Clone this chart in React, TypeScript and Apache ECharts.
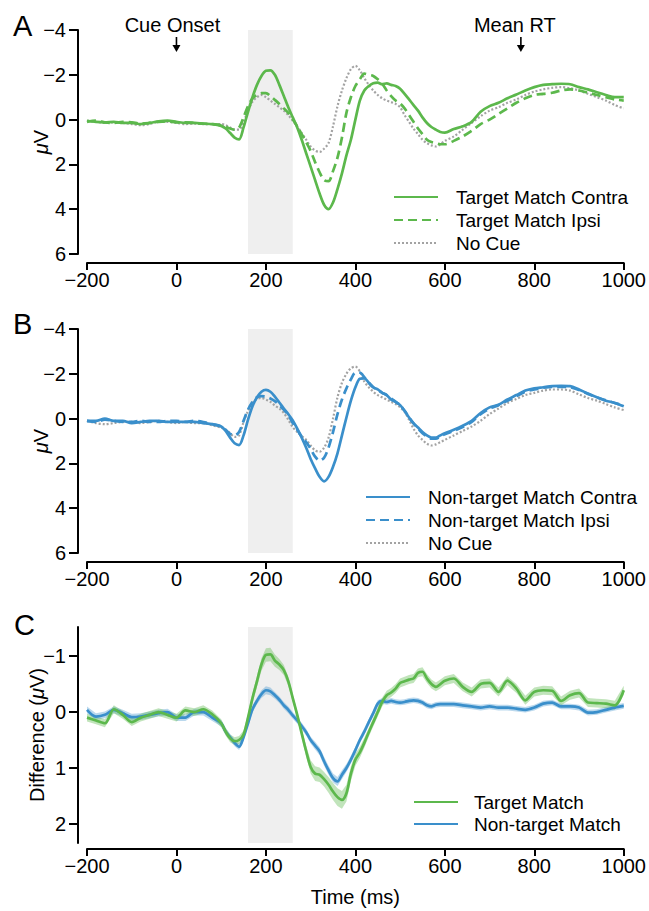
import React, { useEffect, useRef } from "react";
import * as echarts from "echarts";

// Time points (ms)
const times = [
  -200, -180, -160, -140, -120, -100, -80, -60, -40, -20, 0, 20, 40, 60, 80, 100,
  110, 120, 130, 140, 150, 160, 170, 180, 190, 200, 210, 220, 230, 240, 250, 260, 270, 280, 290, 300, 310, 320, 330, 340, 350,
  360, 370, 380, 390, 400, 410, 420, 430, 440, 450, 460, 470, 480, 490, 500, 510, 520, 530, 540, 550, 560, 570, 580, 590, 600,
  620, 640, 660, 680, 700, 720, 740, 760, 780, 800, 820, 840, 860, 880, 900, 920, 940, 960, 980, 1000,
];

// Panel A (µV)
const aContra = [
  0.05, 0.1, 0.12, 0.1, 0.15, 0.15, 0.2, 0.15, 0.08, 0.05, 0.1, 0.15, 0.15, 0.18, 0.2, 0.28,
  0.4, 0.6, 0.8, 0.88, 0.35, -0.35, -1.0, -1.55, -1.95, -2.18, -2.2, -2.0, -1.55, -1.05, -0.55, -0.1, 0.35, 0.9, 1.5, 2.1, 2.7, 3.3, 3.8, 4.0, 3.7,
  3.1, 2.4, 1.6, 0.9, 0.0, -0.85, -1.3, -1.5, -1.62, -1.65, -1.58, -1.62, -1.55, -1.5, -1.38, -1.15, -0.9, -0.65, -0.4, -0.1, 0.15, 0.33, 0.45, 0.55, 0.58,
  0.42, 0.3, 0.1, -0.35, -0.6, -0.75, -0.95, -1.12, -1.3, -1.45, -1.55, -1.58, -1.6, -1.58, -1.45, -1.35, -1.22, -1.1, -1.0, -1.0,
];
const aIpsi = [
  0.1, 0.05, 0.12, 0.15, 0.1, 0.12, 0.18, 0.15, 0.1, 0.08, 0.12, 0.12, 0.15, 0.18, 0.2, 0.25,
  0.32, 0.4, 0.45, 0.35, -0.1, -0.6, -0.95, -1.1, -1.18, -1.18, -1.05, -0.88, -0.7, -0.5, -0.3, -0.02, 0.3, 0.65, 1.0, 1.4, 1.9, 2.35, 2.7, 2.75, 2.3,
  1.7, 0.8, -0.3, -1.0, -1.5, -1.8, -2.05, -2.0, -1.95, -1.8, -1.6, -1.3, -1.05, -0.85, -0.72, -0.5, -0.2, 0.1, 0.4, 0.65, 0.9, 1.0, 1.05, 1.1, 1.1,
  0.95, 0.75, 0.5, 0.2, 0.0, -0.25, -0.5, -0.75, -0.95, -1.1, -1.15, -1.2, -1.3, -1.35, -1.3, -1.2, -1.1, -1.0, -0.9, -0.85,
];
const aNoCue = [
  0.05, 0.1, 0.15, 0.12, 0.15, 0.2, 0.25, 0.2, 0.1, 0.1, 0.15, 0.2, 0.18, 0.2, 0.2, 0.2,
  0.25, 0.35, 0.45, 0.45, 0.1, -0.4, -0.8, -1.0, -1.1, -1.0, -0.85, -0.7, -0.55, -0.4, -0.2, 0.05, 0.3, 0.6, 0.9, 1.2, 1.38, 1.44, 1.3, 1.05, 0.3,
  -0.6, -1.3, -1.85, -2.25, -2.4, -2.2, -1.85, -1.55, -1.3, -1.1, -0.95, -0.85, -0.78, -0.7, -0.55, -0.2, 0.1, 0.4, 0.65, 0.9, 1.05, 1.15, 1.2, 1.1, 0.95,
  0.75, 0.45, 0.15, -0.15, -0.4, -0.55, -0.75, -0.9, -1.1, -1.25, -1.35, -1.42, -1.45, -1.4, -1.3, -1.15, -1.0, -0.85, -0.65, -0.5,
];

// Panel B (µV)
const bContra = [
  0.1, 0.1, 0.0, 0.1, 0.1, 0.2, 0.15, 0.1, 0.1, 0.15, 0.15, 0.15, 0.15, 0.2, 0.25, 0.35,
  0.55, 0.85, 1.1, 1.18, 0.75, 0.05, -0.55, -0.95, -1.2, -1.28, -1.2, -0.98, -0.72, -0.45, -0.2, 0.08, 0.45, 0.85, 1.3, 1.8, 2.22, 2.6, 2.8, 2.6, 2.15,
  1.55, 0.75, -0.05, -0.8, -1.4, -1.78, -1.8, -1.6, -1.4, -1.3, -1.15, -1.05, -0.85, -0.75, -0.6, -0.35, -0.05, 0.2, 0.4, 0.6, 0.75, 0.85, 0.85, 0.75, 0.65,
  0.5, 0.32, 0.1, -0.25, -0.5, -0.62, -0.85, -1.05, -1.25, -1.35, -1.4, -1.45, -1.46, -1.45, -1.3, -1.12, -0.95, -0.8, -0.7, -0.55,
];
const bIpsi = [
  0.1, 0.15, 0.05, 0.1, 0.15, 0.15, 0.1, 0.15, 0.15, 0.1, 0.1, 0.15, 0.1, 0.15, 0.25, 0.35,
  0.5, 0.68, 0.75, 0.6, 0.1, -0.4, -0.75, -0.95, -1.0, -0.98, -0.9, -0.78, -0.6, -0.4, -0.15, 0.2, 0.5, 0.8, 1.05, 1.35, 1.7, 1.88, 1.75, 1.3, 0.6,
  -0.2, -0.85, -1.35, -1.75, -2.05, -2.05, -1.85, -1.6, -1.4, -1.28, -1.15, -1.05, -0.9, -0.75, -0.6, -0.35, -0.05, 0.22, 0.45, 0.65, 0.8, 0.9, 0.9, 0.8, 0.7,
  0.55, 0.38, 0.15, -0.2, -0.45, -0.6, -0.8, -1.0, -1.2, -1.3, -1.38, -1.42, -1.42, -1.4, -1.28, -1.1, -0.95, -0.82, -0.7, -0.58,
];
const bNoCue = [
  0.1, 0.2, 0.25, 0.2, 0.15, 0.15, 0.2, 0.15, 0.1, 0.15, 0.2, 0.15, 0.2, 0.2, 0.3, 0.4,
  0.5, 0.65, 0.82, 0.75, 0.15, -0.35, -0.7, -0.88, -0.92, -0.85, -0.75, -0.58, -0.45, -0.25, 0.05, 0.38, 0.6, 0.78, 0.95, 1.2, 1.42, 1.48, 1.3, 0.85, 0.0,
  -0.95, -1.6, -2.0, -2.25, -2.32, -2.1, -1.65, -1.4, -1.2, -1.05, -0.95, -0.85, -0.75, -0.65, -0.5, -0.3, 0.05, 0.45, 0.75, 0.95, 1.12, 1.2, 1.15, 1.05, 0.95,
  0.75, 0.55, 0.35, 0.1, -0.2, -0.45, -0.7, -0.88, -1.05, -1.15, -1.25, -1.3, -1.3, -1.25, -1.08, -0.92, -0.8, -0.65, -0.5, -0.38,
];

// Panel C difference waves (µV) and their confidence half-widths
const cTarget = [
  0.1, 0.15, 0.2, -0.05, 0.05, 0.18, 0.1, 0.05, 0.0, 0.05, 0.1, -0.03, 0.0, -0.05, 0.04, 0.2,
  0.35, 0.47, 0.52, 0.5, 0.4, 0.1, -0.25, -0.55, -0.85, -1.02, -1.03, -0.92, -0.85, -0.75, -0.55, -0.25, 0.05, 0.38, 0.7, 0.98, 1.1, 1.12, 1.2, 1.3, 1.42,
  1.52, 1.57, 1.45, 1.1, 0.85, 0.72, 0.55, 0.36, 0.18, 0.0, -0.18, -0.3, -0.35, -0.42, -0.52, -0.55, -0.58, -0.6, -0.7, -0.72, -0.6, -0.5, -0.45, -0.5, -0.56,
  -0.6, -0.45, -0.36, -0.5, -0.52, -0.36, -0.56, -0.42, -0.21, -0.36, -0.39, -0.38, -0.2, -0.3, -0.34, -0.17, -0.16, -0.15, -0.12, -0.39,
];
const cNonTarget = [
  -0.04, 0.08, 0.05, -0.04, 0.02, 0.09, 0.08, 0.05, 0.02, 0.0, 0.1, 0.1, 0.0, 0.0, 0.1, 0.2,
  0.35, 0.45, 0.55, 0.62, 0.45, 0.2, -0.05, -0.2, -0.32, -0.39, -0.37, -0.3, -0.22, -0.12, -0.04, 0.06, 0.15, 0.25, 0.36, 0.5, 0.6, 0.7, 0.88, 1.04, 1.18,
  1.24, 1.12, 1.0, 0.85, 0.68, 0.5, 0.35, 0.18, 0.02, -0.15, -0.2, -0.18, -0.2, -0.18, -0.17, -0.18, -0.2, -0.21, -0.2, -0.17, -0.12, -0.1, -0.13, -0.14, -0.14,
  -0.14, -0.12, -0.1, -0.08, -0.1, -0.08, -0.08, -0.06, -0.04, -0.08, -0.15, -0.17, -0.1, -0.1, -0.08, 0.01, 0.0, -0.04, -0.08, -0.11,
];
const cTargetCI = [
  0.07, 0.07, 0.07, 0.07, 0.07, 0.07, 0.07, 0.07, 0.07, 0.07, 0.07, 0.07, 0.07, 0.07, 0.07, 0.07,
  0.07, 0.07, 0.07, 0.07, 0.07, 0.08, 0.09, 0.1, 0.11, 0.12, 0.12, 0.11, 0.1, 0.09, 0.08, 0.07, 0.07, 0.08, 0.1, 0.12, 0.13, 0.13, 0.13, 0.14, 0.15,
  0.16, 0.16, 0.15, 0.13, 0.11, 0.1, 0.09, 0.08, 0.08, 0.08, 0.08, 0.08, 0.08, 0.08, 0.08, 0.08, 0.08, 0.08, 0.08, 0.08, 0.08, 0.08, 0.08, 0.08, 0.08,
  0.08, 0.08, 0.08, 0.08, 0.08, 0.08, 0.08, 0.08, 0.08, 0.08, 0.08, 0.08, 0.08, 0.08, 0.08, 0.08, 0.08, 0.08, 0.08, 0.08,
];
const cNonTargetCI = [
  0.06, 0.06, 0.06, 0.06, 0.06, 0.06, 0.06, 0.06, 0.06, 0.06, 0.06, 0.06, 0.06, 0.06, 0.06, 0.06,
  0.06, 0.06, 0.06, 0.06, 0.06, 0.06, 0.06, 0.06, 0.07, 0.07, 0.07, 0.06, 0.06, 0.06, 0.06, 0.06, 0.06, 0.06, 0.06, 0.06, 0.07, 0.07, 0.08, 0.08, 0.08,
  0.08, 0.08, 0.07, 0.07, 0.06, 0.06, 0.06, 0.06, 0.06, 0.06, 0.05, 0.05, 0.05, 0.05, 0.05, 0.05, 0.05, 0.05, 0.05, 0.05, 0.05, 0.05, 0.05, 0.05, 0.05,
  0.05, 0.05, 0.05, 0.05, 0.05, 0.05, 0.05, 0.05, 0.05, 0.05, 0.05, 0.05, 0.05, 0.05, 0.05, 0.05, 0.05, 0.05, 0.05, 0.05,
];

const xTicks = [-200, 0, 200, 400, 600, 800, 1000];
const abTicks = [-4, -2, 0, 2, 4, 6];
const cTicks = [-1, 0, 1, 2];
const shadeWindow = [160, 260];
const cueOnset = 0;
const meanRT = 770;

const FONT = "'Liberation Sans', Arial, Helvetica, sans-serif";
const GREEN = "#5cb84c";
const BLUE = "#3a8fcb";
const GRAY = "#a3a3a3";

const zip = (vals: number[]) => times.map((t, i) => [t, vals[i]]);
const fmt = (v: number) => String(v).replace("-", "\u2212");

function xAxis(gi: number, offset: number, name?: string) {
  return {
    type: "value",
    gridIndex: gi,
    min: xTicks[0],
    max: xTicks[xTicks.length - 1],
    interval: 200,
    offset,
    axisLine: { show: true, onZero: false, lineStyle: { color: "#000", width: 2 } },
    axisTick: { show: true, length: 7, lineStyle: { color: "#000", width: 2 } },
    axisLabel: { color: "#000", fontSize: 20, fontFamily: FONT, margin: 7, formatter: fmt },
    splitLine: { show: false },
    name,
    nameLocation: "middle",
    nameGap: 38,
    nameMoveOverlap: false,
    nameTextStyle: { color: "#000", fontSize: 20, fontFamily: FONT },
  };
}

function yAxis(gi: number, min: number, max: number, ticks: number[], name: string, nameGap: number) {
  return {
    type: "value",
    gridIndex: gi,
    inverse: true,
    min,
    max,
    offset: 9,
    axisLine: { show: true, onZero: false, lineStyle: { color: "#000", width: 2 } },
    axisTick: { show: true, length: 9, customValues: ticks, lineStyle: { color: "#000", width: 2 } },
    axisLabel: { color: "#000", fontSize: 20, fontFamily: FONT, margin: 12, customValues: ticks, formatter: fmt },
    splitLine: { show: false },
    name,
    nameLocation: "middle",
    nameGap,
    nameMoveOverlap: false,
    nameTextStyle: {
      color: "#000",
      fontSize: 20,
      fontFamily: FONT,
      rich: { i: { fontStyle: "italic", fontSize: 20, fontFamily: FONT, color: "#000" } },
    },
  };
}

function shade(gi: number) {
  return {
    type: "line",
    xAxisIndex: gi,
    yAxisIndex: gi,
    data: [],
    z: 1,
    silent: true,
    markArea: {
      silent: true,
      itemStyle: { color: "#efefef" },
      data: [[{ xAxis: shadeWindow[0] }, { xAxis: shadeWindow[1] }]],
    },
  };
}

function line(gi: number, name: string, vals: number[], color: string, width: number, type: any) {
  return {
    type: "line",
    name,
    xAxisIndex: gi,
    yAxisIndex: gi,
    data: zip(vals),
    symbol: "none",
    showSymbol: false,
    smooth: 0.3,
    z: 3,
    lineStyle: { color, width, type },
    itemStyle: { color },
  };
}

// Confidence band drawn as one polygon through the axis scales
function band(gi: number, vals: number[], ci: number[], color: string) {
  const rows = times.map((t, i) => [t, vals[i] - ci[i], vals[i] + ci[i]]);
  return {
    type: "custom",
    xAxisIndex: gi,
    yAxisIndex: gi,
    silent: true,
    z: 2,
    data: rows,
    encode: { x: 0, y: [1, 2] },
    renderItem: (params: any, api: any) => {
      if (params.dataIndex !== 0) return null;
      const upper = rows.map((r) => api.coord([r[0], r[2]]));
      const lower = rows.map((r) => api.coord([r[0], r[1]])).reverse();
      return {
        type: "polygon",
        shape: { points: upper.concat(lower) },
        style: { fill: color },
      };
    },
  };
}

function legend(names: string[], left: number, top: number, gap: number, pad: number) {
  return {
    data: names,
    orient: "vertical",
    left,
    top,
    padding: 0,
    itemWidth: 44,
    itemHeight: 14,
    itemGap: gap,
    selectedMode: false,
    itemStyle: { opacity: 0 },
    textStyle: { color: "#000", fontSize: 19, fontFamily: FONT, lineHeight: 20, padding: [0, 0, 0, pad] },
  };
}

const DASH = [9, 5];
const DOT = [2, 2];

const option: any = {
  animation: false,
  backgroundColor: "#fff",
  grid: [
    { left: 87, width: 540, top: 30, height: 224 },
    { left: 87, width: 540, top: 329, height: 224 },
    { left: 87, width: 540, top: 627, height: 216 },
  ],
  xAxis: [xAxis(0, 9), xAxis(1, 9), xAxis(2, 6, "Time (ms)")],
  yAxis: [
    yAxis(0, -4, 6, abTicks, "{i|\u03bc}V", 27),
    yAxis(1, -4, 6, abTicks, "{i|\u03bc}V", 27),
    yAxis(2, -1.52, 2.34, cTicks, "Difference ({i|\u03bc}V)", 31),
  ],
  legend: [
    legend(["Target Match Contra", "Target Match Ipsi", "No Cue"], 393, 187, 3, 13),
    legend(["Non-target Match Contra", "Non-target Match Ipsi", "No Cue"], 365, 487, 3, 13),
    legend(["Target Match", "Non-target Match"], 413, 792, 2, 11),
  ],
  series: [
    shade(0),
    line(0, "No Cue", aNoCue, GRAY, 2.2, DOT),
    line(0, "Target Match Ipsi", aIpsi, GREEN, 2.7, DASH),
    line(0, "Target Match Contra", aContra, GREEN, 2.7, "solid"),
    shade(1),
    line(1, "No Cue", bNoCue, GRAY, 2.2, DOT),
    line(1, "Non-target Match Ipsi", bIpsi, BLUE, 2.7, DASH),
    line(1, "Non-target Match Contra", bContra, BLUE, 2.7, "solid"),
    shade(2),
    band(2, cNonTarget, cNonTargetCI, "rgba(58,143,203,0.35)"),
    band(2, cTarget, cTargetCI, "rgba(92,184,76,0.38)"),
    line(2, "Non-target Match", cNonTarget, BLUE, 2.7, "solid"),
    line(2, "Target Match", cTarget, GREEN, 2.7, "solid"),
  ],
};

export default function App() {
  const ref = useRef<HTMLDivElement>(null);
  useEffect(() => {
    const chart = echarts.init(ref.current!, null, { renderer: "svg" });
    chart.setOption(option);
    const cueX = chart.convertToPixel({ xAxisIndex: 0 }, cueOnset) as number;
    const rtX = chart.convertToPixel({ xAxisIndex: 0 }, meanRT) as number;
    const arrow = (x: number) => [
      { type: "line", shape: { x1: x, y1: 37, x2: x, y2: 47 }, style: { stroke: "#000", lineWidth: 1.6 } },
      { type: "polygon", shape: { points: [[x - 4, 45], [x + 4, 45], [x, 52]] }, style: { fill: "#000" } },
    ];
    const label = (text: string, x: number, y: number, size: number, align = "center") => ({
      type: "text",
      x,
      y,
      style: { text, fontSize: size, fontFamily: FONT, fill: "#000", align, verticalAlign: "middle" },
    });
    chart.setOption({
      graphic: [
        ...arrow(cueX),
        ...arrow(rtX),
        label("Cue Onset", cueX - 4, 25, 20),
        label("Mean RT", rtX - 6, 25, 20),
        label("A", 13, 26, 29, "left"),
        label("B", 13, 324, 29, "left"),
        label("C", 14, 625, 29, "left"),
      ],
    });
    return () => chart.dispose();
  }, []);
  return <div ref={ref} style={{ position: "absolute", left: 0, top: 0, width: 649, height: 911 }} />;
}
